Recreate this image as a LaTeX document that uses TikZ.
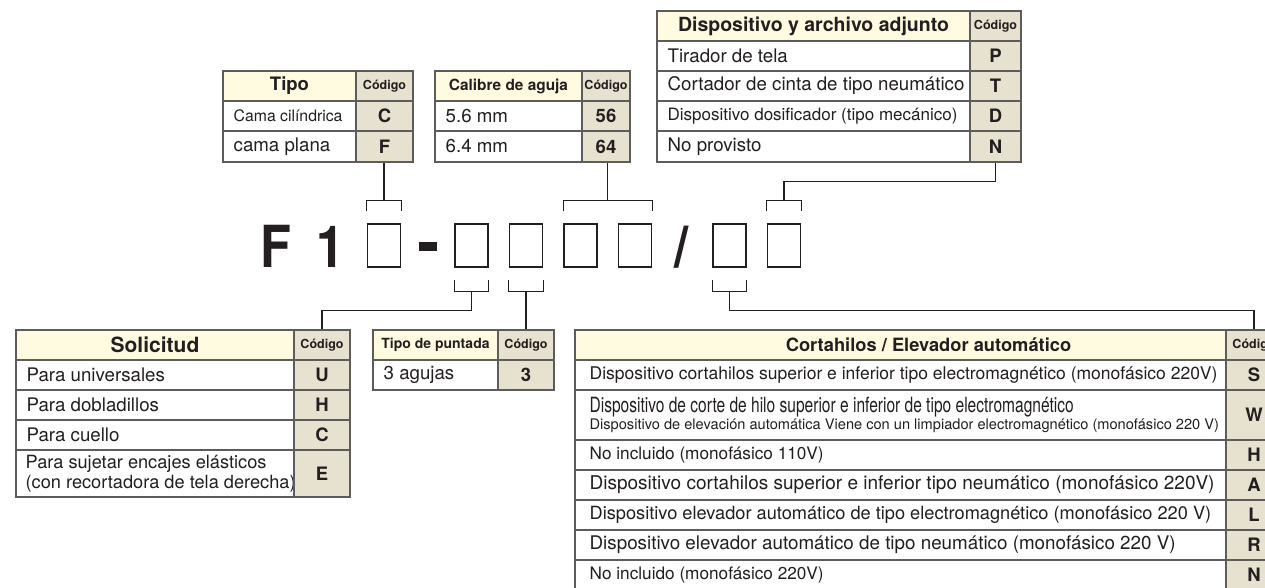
\documentclass[tikz,border=0pt]{standalone}
\usepackage{fontspec}
\setmainfont{TeX Gyre Heros}
\newfontfamily\condfont[FakeStretch=0.74]{TeX Gyre Heros}
\newfontfamily\bigcodefont[FakeStretch=0.87]{TeX Gyre Heros}
\usetikzlibrary{calc}
\definecolor{ink}{HTML}{231F20}
\definecolor{rule}{HTML}{5E5B5B}
\definecolor{hdr}{HTML}{FFFBE1}
\definecolor{codefill}{HTML}{E6E2CF}
\tikzset{
  every picture/.style={line cap=butt, line join=miter},
  cell/.style={draw=rule, line width=1.1pt, inner sep=0pt, text=ink},
  txtcell/.style={cell, fill=white},
  hdrcell/.style={cell, fill=hdr, font=\bfseries\fontsize{18.5}{20}\selectfont},
  codecell/.style={cell, fill=codefill, font=\bfseries\fontsize{18.5}{20}\selectfont},
  codehead/.style={font=\bfseries\fontsize{12.5}{14}\selectfont},
  lab/.style={text=ink, inner sep=0pt, align=left, font=\fontsize{18.7}{20.5}\selectfont},
  row/.style={xshift=4pt, font=\fontsize{#1}{20}\selectfont},
  conn/.style={draw=ink, line width=1.3pt},
  slot/.style={draw=ink, line width=1.4pt, minimum width=33pt, minimum height=43pt, inner sep=0pt},
  big/.style={text=ink, inner sep=0pt, font=\bigcodefont\bfseries\fontsize{58}{60}\selectfont}
}
% #1 = label options, #2 = name, #3..#6 = x1,y1,x2,y2 (pixels), #7 = text
\newcommand{\TxtCell}[7][]{%
  \node[txtcell, minimum width={(#5-#3)*1pt}, minimum height={(#6-#4)*1pt},
    label={[lab, anchor=west, xshift=11pt, #1]west:{#7}}] (#2) at ({(#3+#5)/2},{(#4+#6)/2}) {};}
\newcommand{\HdrCell}[7][]{%
  \node[hdrcell, minimum width={(#5-#3)*1pt}, minimum height={(#6-#4)*1pt}, #1]
    (#2) at ({(#3+#5)/2},{(#4+#6)/2}) {#7};}
\newcommand{\CodeCell}[7][]{%
  \node[codecell, minimum width={(#5-#3)*1pt}, minimum height={(#6-#4)*1pt}, #1]
    (#2) at ({(#3+#5)/2},{(#4+#6)/2}) {#7};}
% brackets over / under the code slots, #3 = apex coordinate
\newcommand{\TopBrace}[3]{%
  \draw[conn] ($(#1.north west)+(0,-12)$) -- ++(0,-11) -| ($(#2.north east)+(0,-12)$);
  \coordinate (#3) at ($(#1.north west)!0.5!(#2.north east)+(0,-23)$);}
\newcommand{\BotBrace}[3]{%
  \draw[conn] ($(#1.south west)+(0,12)$) -- ++(0,12) -| ($(#2.south east)+(0,12)$);
  \coordinate (#3) at ($(#1.south west)!0.5!(#2.south east)+(0,24)$);}

\begin{document}
\begin{tikzpicture}[x=1pt, y=-1pt]
  \clip (0,0) rectangle (1265,587);

  % Tipo
  \HdrCell{tipoH}{223}{71}{356}{101}{Tipo}
  \CodeCell[codehead]{tipoHc}{356}{71}{413}{101}{Código}
  \TxtCell[font=\fontsize{15.8}{18}\selectfont]{tipoC}{223}{101}{356}{131}{Cama cilíndrica}
  \CodeCell{tipoCc}{356}{101}{413}{131}{C}
  \TxtCell{tipoF}{223}{131}{356}{162}{cama plana}
  \CodeCell{tipoFc}{356}{131}{413}{162}{F}

  % Calibre de aguja
  \HdrCell[font=\bfseries\fontsize{15.4}{17}\selectfont]{calH}{435}{71}{582}{101}{Calibre de aguja}
  \CodeCell[codehead]{calHc}{582}{71}{630}{101}{Código}
  \TxtCell{calA}{435}{101}{582}{131}{5.6 mm}
  \CodeCell{calAc}{582}{101}{630}{131}{56}
  \TxtCell{calB}{435}{131}{582}{162}{6.4 mm}
  \CodeCell{calBc}{582}{131}{630}{162}{64}

  % Dispositivo y archivo adjunto
  \HdrCell[font=\bfseries\fontsize{19.5}{21}\selectfont]{devH}{657}{11}{970}{41}{Dispositivo y archivo adjunto}
  \CodeCell[codehead]{devHc}{970}{11}{1021}{41}{Código}
  \TxtCell{devP}{657}{41}{970}{71}{Tirador de tela}
  \CodeCell{devPc}{970}{41}{1021}{71}{P}
  \TxtCell{devT}{657}{71}{970}{101}{Cortador de cinta de tipo neumático}
  \CodeCell{devTc}{970}{71}{1021}{101}{T}
  \TxtCell[font=\fontsize{17}{18}\selectfont]{devD}{657}{101}{970}{131}{Dispositivo dosificador (tipo mecánico)}
  \CodeCell{devDc}{970}{101}{1021}{131}{D}
  \TxtCell{devN}{657}{131}{970}{162}{No provisto}
  \CodeCell{devNc}{970}{131}{1021}{162}{N}

  % model code
  \node[big, anchor=base] (cF) at (276,267) {F};
  \node[big, anchor=base] (cOne) at (331,267) {1};
  \node[fill=ink, minimum width=18pt, minimum height=9pt, inner sep=0pt] (dash) at (428,246.5) {};
  \node[big, anchor=base] (slash) at (681.5,267) {/};
  \foreach \n/\x in {1/384, 2/471.5, 3/526, 4/580.5, 5/635, 6/729.5, 7/784}
    \node[slot] (b\n) at (\x,245.5) {};

  \TopBrace{b1}{b1}{u1}
  \TopBrace{b4}{b5}{u45}
  \TopBrace{b7}{b7}{u7}
  \BotBrace{b2}{b2}{d2}
  \BotBrace{b3}{b3}{d3}
  \BotBrace{b6}{b6}{d6}

  % Solicitud
  \HdrCell[font=\bfseries\fontsize{21}{23}\selectfont]{solH}{16}{330}{294}{360}{Solicitud}
  \CodeCell[codehead]{solHc}{294}{330}{350}{360}{Código}
  \TxtCell{solU}{16}{360}{294}{390}{Para universales}
  \CodeCell{solUc}{294}{360}{350}{390}{U}
  \TxtCell{solH2}{16}{390}{294}{420}{Para dobladillos}
  \CodeCell{solH2c}{294}{390}{350}{420}{H}
  \TxtCell{solC}{16}{420}{294}{450}{Para cuello}
  \CodeCell{solCc}{294}{420}{350}{450}{C}
  \TxtCell[xshift=-1pt, font=\fontsize{18.2}{20}\selectfont]{solE}{16}{450}{294}{497}{Para sujetar encajes elásticos\\(con recortadora de tela derecha)}
  \CodeCell{solEc}{294}{450}{350}{497}{E}

  % Tipo de puntada
  \HdrCell[font=\bfseries\fontsize{14}{16}\selectfont]{tpH}{373}{330}{498}{360}{Tipo de puntada}
  \CodeCell[codehead]{tpHc}{498}{330}{554}{360}{Código}
  \TxtCell{tpA}{373}{360}{498}{390}{3 agujas}
  \CodeCell{tpAc}{498}{360}{554}{390}{3}

  % Cortahilos / Elevador automatico
  \HdrCell[font=\bfseries\fontsize{18.3}{20}\selectfont, text width=620pt, align=center,
    label={[font=\bfseries\fontsize{18.3}{20}\selectfont, text=ink, xshift=28pt]center:{Cortahilos / Elevador automático}}]{chH}{575}{330}{1226}{360}{}
  \CodeCell[codehead]{chHc}{1226}{330}{1282}{360}{Código}
  \TxtCell[row=17.5]{chS}{575}{360}{1226}{390}{Dispositivo cortahilos superior e inferior tipo electromagnético (monofásico 220V)}
  \CodeCell{chSc}{1226}{360}{1282}{390}{S}
  \TxtCell[row=14.6]{chW}{575}{390}{1226}{440}{{\condfont\fontsize{21}{21}\selectfont Dispositivo de corte de hilo superior e inferior de tipo electromagnético}\\[-3pt]Dispositivo de elevación automática Viene con un limpiador electromagnético (monofásico 220 V)}
  \CodeCell{chWc}{1226}{390}{1282}{440}{W}
  \TxtCell[row=17.2]{chH2}{575}{440}{1226}{470}{No incluido (monofásico 110V)}
  \CodeCell{chH2c}{1226}{440}{1282}{470}{H}
  \TxtCell[row=19]{chA}{575}{470}{1226}{500}{Dispositivo cortahilos superior e inferior tipo neumático (monofásico 220V)}
  \CodeCell{chAc}{1226}{470}{1282}{500}{A}
  \TxtCell[row=18.2]{chL}{575}{500}{1226}{530}{Dispositivo elevador automático de tipo electromagnético (monofásico 220 V)}
  \CodeCell{chLc}{1226}{500}{1282}{530}{L}
  \TxtCell[row=18.8]{chR}{575}{530}{1226}{560}{Dispositivo elevador automático de tipo neumático (monofásico 220 V)}
  \CodeCell{chRc}{1226}{530}{1282}{560}{R}
  \TxtCell[row=17.2]{chN}{575}{560}{1226}{590}{No incluido (monofásico 220V)}
  \CodeCell{chNc}{1226}{560}{1282}{590}{N}

  % connectors
  \draw[conn] (u1) -- (u1 |- tipoFc.south);
  \draw[conn] (u45) -- (u45 |- calBc.south);
  \draw[conn] (devNc.south) -- ++(0,19) -| (u7);
  \draw[conn] (d2) -- ++(0,19) -| (solHc.north);
  \draw[conn] (d3) -- (d3 |- tpHc.north);
  \draw[conn] (d6) -- ++(0,19) -| (chHc.north);
\end{tikzpicture}
\end{document}
